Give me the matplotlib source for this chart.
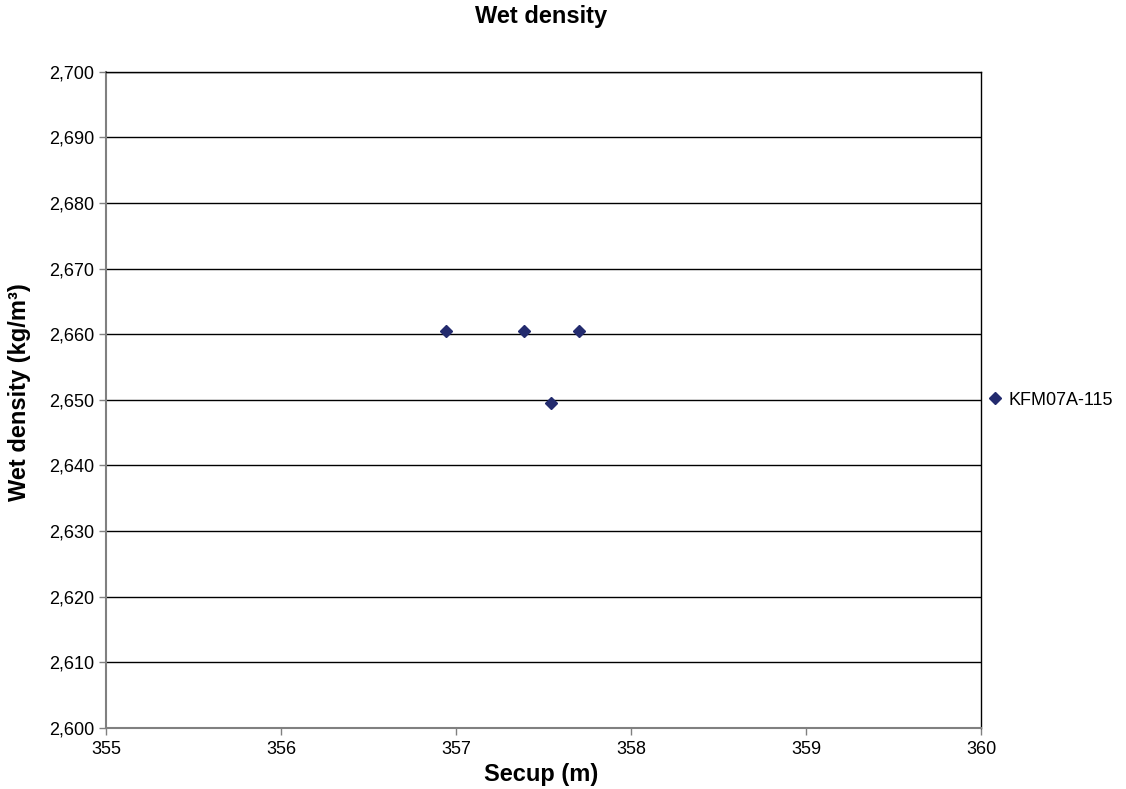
import matplotlib
matplotlib.use("Agg")
import matplotlib.pyplot as plt
from matplotlib.ticker import FuncFormatter, MultipleLocator

plt.rcParams['font.family'] = ['Liberation Sans', 'DejaVu Sans']

secup = [356.94, 357.39, 357.54, 357.70]
wet_density = [2660.5, 2660.5, 2649.5, 2660.5]
series_name = "KFM07A-115"

fig = plt.figure(figsize=(11.26, 7.89), dpi=100)
ax = fig.add_axes([106/1126, 1 - 728/789, (981-106)/1126, (728-71.7)/789])

ax.set_xlim(355, 360)
ax.set_ylim(2600, 2700)
ax.xaxis.set_major_locator(MultipleLocator(1))
ax.yaxis.set_major_locator(MultipleLocator(10))
ax.yaxis.set_major_formatter(FuncFormatter(lambda v, p: f"{v:,.0f}"))
ax.xaxis.set_major_formatter(FuncFormatter(lambda v, p: f"{v:.0f}"))

ax.grid(axis='y', color='black', linewidth=1.0)
ax.set_axisbelow(True)
for s in ['top', 'right']:
    ax.spines[s].set_color('black')
    ax.spines[s].set_linewidth(1.0)
for s in ['left', 'bottom']:
    ax.spines[s].set_color('#808080')
    ax.spines[s].set_linewidth(1.5)

ax.tick_params(axis='both', labelsize=13, color='#808080', length=5, width=1, direction='out')
ax.tick_params(axis='x', pad=4)

ax.plot(secup, wet_density, linestyle='none', marker='D', markersize=6,
        color='#232B6E', label=series_name)

fig.text(541/1126, 1 - 23/789, "Wet density", fontsize=17, fontweight='bold',
         ha='center', va='baseline')
fig.text(541.5/1126, 1 - 781/789, "Secup (m)", fontsize=17, fontweight='bold',
         ha='center', va='baseline')
fig.text(20/1126, 1 - 392/789, "Wet density (kg/m³)", fontsize=17, fontweight='bold',
         ha='center', va='center', rotation=90)

ax.legend(loc='center left', bbox_to_anchor=(986/1126, 1 - 400/789),
          bbox_transform=fig.transFigure, frameon=False, borderpad=0,
          borderaxespad=0, handlelength=1, handletextpad=0.22, numpoints=1,
          fontsize=13)

fig.savefig("out.png", dpi=100)
